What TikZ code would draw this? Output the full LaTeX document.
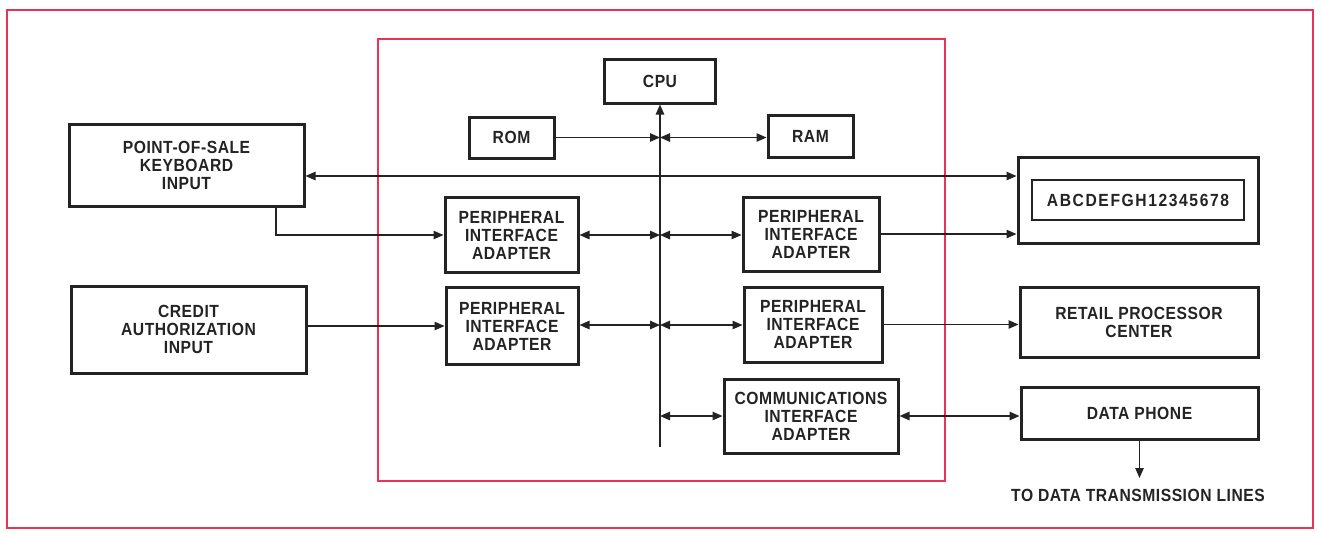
\documentclass[tikz,border=0pt]{standalone}
\usepackage{fontspec}
\newfontfamily\lab{Liberation Sans}[FakeStretch=0.89, LetterSpace=3]
\usetikzlibrary{arrows.meta}
\definecolor{frame}{RGB}{232,52,84}
\definecolor{ink}{RGB}{35,35,35}
\tikzset{
  box/.style 2 args={draw=ink, line width=1.5pt, minimum width=#1*0.5pt, minimum height=#2*0.5pt,
    inner sep=0pt, align=center, text=ink, font=\lab\bfseries\fontsize{8.8}{9}\selectfont},
  conn/.style={draw=ink, line width=0.75pt},
  tip/.style={-{Triangle[length=5pt,width=4.2pt]}},
  both/.style={{Triangle[length=5pt,width=4.2pt]}-{Triangle[length=5pt,width=4.2pt]}},
  redframe/.style={draw=frame, line width=1.1pt},
  lbl/.style={text=ink, font=\lab\bfseries\fontsize{8.8}{9}\selectfont, inner sep=0pt}
}
\begin{document}
\begin{tikzpicture}[x=0.5pt,y=-0.5pt]
\useasboundingbox (0,0) rectangle (1323,532);
\fill[white] (0,0) rectangle (1323,532);
% red frames
\draw[redframe] (7,10) rectangle (1313,528);
\draw[redframe] (378,39) rectangle (945,481);
% boxes
\node[box={111}{44}] (cpu) at (660,81) {CPU};
\node[box={85}{41}] (rom) at (511.5,137.5) {ROM};
\node[box={85}{42}] (ram) at (810.5,136) {RAM};
\node[box={235}{82}] (kb) at (186.5,165) {POINT-OF-SALE\\KEYBOARD\\INPUT};
\node[box={133}{75}] (pia1) at (511.5,235) {PERIPHERAL\\INTERFACE\\ADAPTER};
\node[box={136}{74}] (pia2) at (811,234) {PERIPHERAL\\INTERFACE\\ADAPTER};
\node[box={240}{86}] (disp) at (1138,200) {};
\node[draw=ink, line width=0.8pt, minimum width=106pt, minimum height=20pt, inner sep=0pt,
  text=ink, font=\lab\bfseries\fontsize{8.8}{9}\selectfont\addfontfeature{LetterSpace=9}] (dispin) at (1138,200) {ABCDEFGH12345678};
\node[box={235}{87}] (credit) at (188.5,329.5) {CREDIT\\AUTHORIZATION\\INPUT};
\node[box={132}{77}] (pia3) at (512,326) {PERIPHERAL\\INTERFACE\\ADAPTER};
\node[box={138}{75}] (pia4) at (813,324.5) {PERIPHERAL\\INTERFACE\\ADAPTER};
\node[box={238}{70}] (retail) at (1139,322) {RETAIL PROCESSOR\\CENTER};
\node[box={174}{74}] (comm) at (811,416) {COMMUNICATIONS\\INTERFACE\\ADAPTER};
\node[box={237}{52}] (dp) at (1139.5,413) {DATA PHONE};
\node[lbl] (tdl) at (1138,495) {TO DATA TRANSMISSION LINES};
% bus coordinates
\coordinate (busend) at (660,447);
\coordinate (brom) at (660,137.5);
\coordinate (b1) at (660,235);
\coordinate (b2) at (660,325);
\coordinate (b3) at (660,416);
\coordinate (kbline) at (660,176);
\coordinate (kbdrop) at (276,235);
\coordinate (dpout) at (1139.5,478);
% connectors
\draw[conn,tip] (busend) -- (cpu.south);
\draw[conn,tip] (rom.east) -- (brom);
\draw[conn,both] (brom) -- (ram.west |- brom);
\draw[conn,both] (kb.east |- kbline) -- (disp.west |- kbline);
\draw[conn,tip] (kb.south -| kbdrop) -- (kbdrop) -- (pia1.west);
\draw[conn,both] (pia1.east) -- (b1);
\draw[conn,both] (b1) -- (pia2.west |- b1);
\draw[conn,tip] (pia2.east) -- (disp.west |- pia2.east);
\draw[conn,tip] (credit.east |- pia3.west) -- (pia3.west);
\draw[conn,both] (pia3.east |- b2) -- (b2);
\draw[conn,both] (b2) -- (pia4.west |- b2);
\draw[conn,tip] (pia4.east) -- (retail.west |- pia4.east);
\draw[conn,both] (b3) -- (comm.west);
\draw[conn,both] (comm.east) -- (dp.west |- comm.east);
\draw[conn,tip] (dp.south) -- (dpout);
\end{tikzpicture}
\end{document}
